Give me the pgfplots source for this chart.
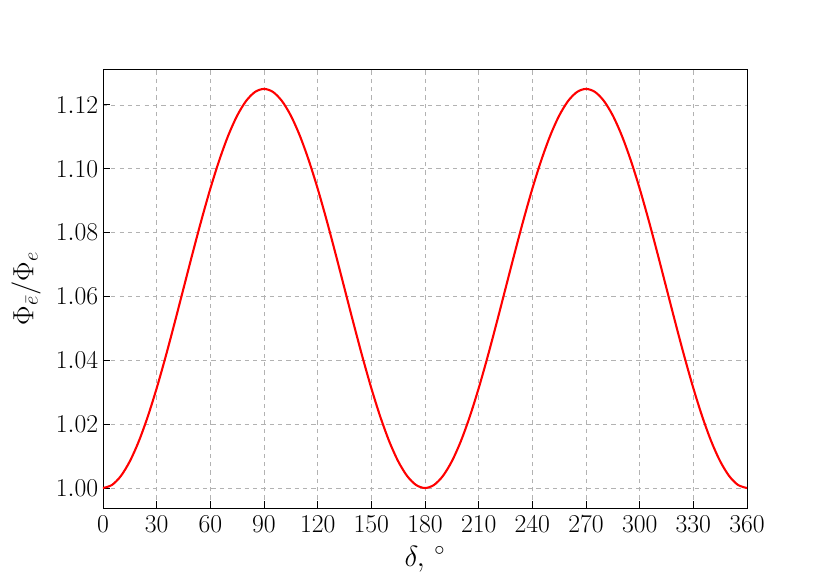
\RequirePackage{fix-cm}
\documentclass[border=0pt]{standalone}
\usepackage{pgfplots}
\pgfplotsset{compat=1.18}
\begin{document}
\begin{tikzpicture}
\path[use as bounding box] (0,0) rectangle (597.6pt,418.3pt);
\begin{axis}[
  at={(74.16pt,52.56pt)}, anchor=south west,
  scale only axis, width=463.7pt, height=316.1pt,
  xmin=0, xmax=360, ymin=0.99375, ymax=1.13125,
  xtick={0,30,...,360},
  ytick={1.00,1.02,1.04,1.06,1.08,1.10,1.12},
  yticklabel style={/pgf/number format/.cd,fixed,fixed zerofill,precision=2},
  xticklabel style={yshift=-2pt},
  tick align=inside, ticks=both,
  xtick pos=bottom, ytick pos=left,
  major tick length=5pt,
  tick style={black, line width=0.6pt},
  axis line style={line width=0.6pt},
  grid=major,
  grid style={dashed, gray!60, line width=0.5pt},
  tick label style={font=\fontsize{18.5}{21}\selectfont},
  label style={font=\fontsize{21}{25}\selectfont},
  xlabel={$\delta,\,^\circ$},
  ylabel={$\Phi_{\bar{e}}/\Phi_{e}$},
  xlabel style={yshift=-3pt},
  ylabel style={yshift=4pt},
]
\addplot[red, line width=1.5pt, smooth] coordinates {
(0,1.00000)(5,1.00095)(10,1.00377)(15,1.00837)(20,1.01462)(25,1.02233)(30,1.03125)(35,1.04112)(40,1.05165)(45,1.06250)(50,1.07335)(55,1.08388)(60,1.09375)(65,1.10267)(70,1.11038)(75,1.11663)(80,1.12123)(85,1.12405)(90,1.12500)
(95,1.12405)(100,1.12123)(105,1.11663)(110,1.11038)(115,1.10267)(120,1.09375)(125,1.08388)(130,1.07335)(135,1.06250)(140,1.05165)(145,1.04112)(150,1.03125)(155,1.02233)(160,1.01462)(165,1.00837)(170,1.00377)(175,1.00095)(180,1.00000)
(185,1.00095)(190,1.00377)(195,1.00837)(200,1.01462)(205,1.02233)(210,1.03125)(215,1.04112)(220,1.05165)(225,1.06250)(230,1.07335)(235,1.08388)(240,1.09375)(245,1.10267)(250,1.11038)(255,1.11663)(260,1.12123)(265,1.12405)(270,1.12500)
(275,1.12405)(280,1.12123)(285,1.11663)(290,1.11038)(295,1.10267)(300,1.09375)(305,1.08388)(310,1.07335)(315,1.06250)(320,1.05165)(325,1.04112)(330,1.03125)(335,1.02233)(340,1.01462)(345,1.00837)(350,1.00377)(355,1.00095)(360,1.00000)
};
\end{axis}
\end{tikzpicture}
\end{document}
